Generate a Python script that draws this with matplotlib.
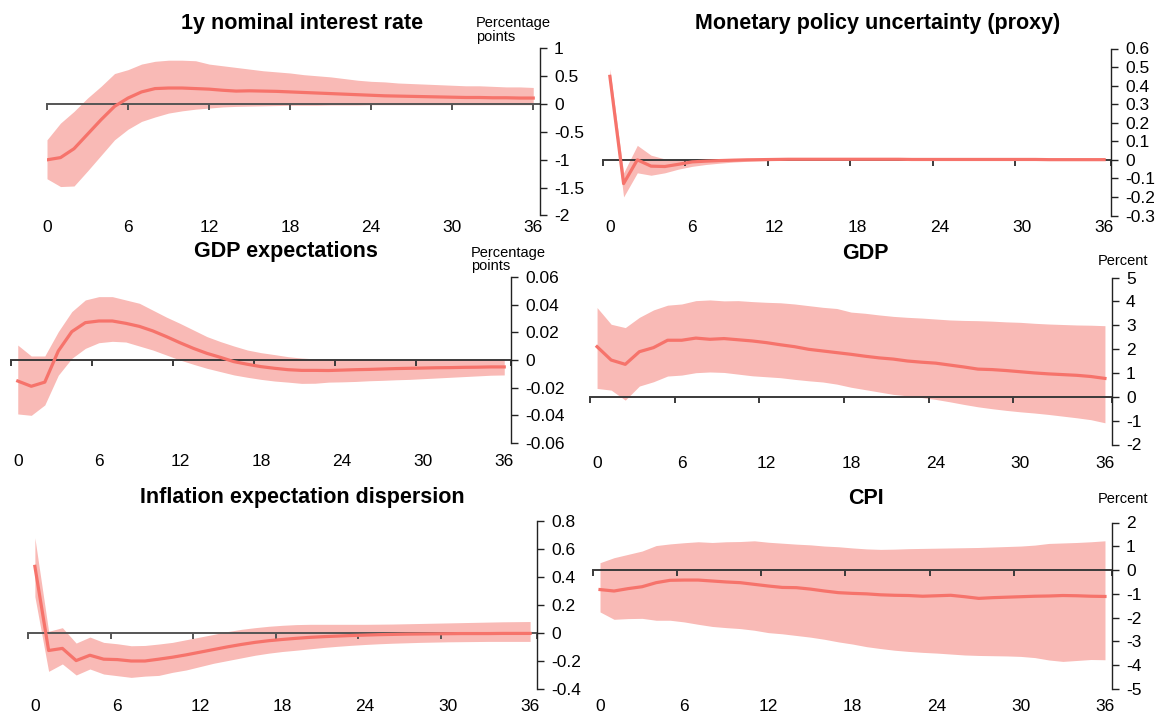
import numpy as np
import matplotlib
matplotlib.use("Agg")
import matplotlib.pyplot as plt

plt.rcParams['font.family'] = ['Liberation Sans', 'DejaVu Sans']

months = np.arange(37)
xlabels = [0, 6, 12, 18, 24, 30, 36]

# 1y nominal interest rate
rate_mid = [-1.00, -0.96, -0.80, -0.54, -0.28, -0.04, 0.11, 0.22, 0.28, 0.29, 0.29, 0.28, 0.27,
            0.25, 0.235, 0.24, 0.235, 0.23, 0.22, 0.21, 0.20, 0.19, 0.18, 0.17, 0.16, 0.15, 0.145,
            0.14, 0.135, 0.13, 0.125, 0.12, 0.12, 0.115, 0.115, 0.11, 0.11]
rate_up = [-0.64, -0.34, -0.13, 0.11, 0.32, 0.55, 0.62, 0.72, 0.77, 0.79, 0.79, 0.78, 0.72,
           0.69, 0.66, 0.63, 0.60, 0.58, 0.56, 0.53, 0.51, 0.49, 0.46, 0.43, 0.41, 0.40, 0.38,
           0.37, 0.36, 0.35, 0.34, 0.33, 0.33, 0.32, 0.31, 0.31, 0.30]
rate_lo = [-1.34, -1.48, -1.47, -1.20, -0.92, -0.64, -0.45, -0.31, -0.23, -0.16, -0.12, -0.09, -0.07,
           -0.05, -0.04, -0.035, -0.03, -0.025, -0.02, -0.02, -0.02, -0.015, -0.015, -0.015, -0.01,
           -0.01, -0.01, -0.01, -0.01, -0.01, -0.01, -0.01, -0.01, -0.01, -0.01, -0.01, -0.01]

# Monetary policy uncertainty (proxy)
mpu_mid = [0.45, -0.128, 0.0, -0.034, -0.036, -0.024, -0.011, -0.007, -0.004, -0.002, 0.0, 0.001,
           0.002, 0.003, 0.003, 0.003, 0.003, 0.003, 0.003, 0.003, 0.003, 0.003, 0.002, 0.002, 0.002,
           0.002, 0.002, 0.002, 0.002, 0.002, 0.002, 0.002, 0.001, 0.001, 0.001, 0.001, 0.001]
mpu_up = [0.49, -0.07, 0.078, 0.025, 0.005, 0.0, 0.003, 0.005, 0.007, 0.008, 0.008, 0.008, 0.008,
          0.008, 0.008, 0.008, 0.008, 0.008, 0.007, 0.007, 0.007, 0.007, 0.007, 0.006, 0.006, 0.006,
          0.006, 0.006, 0.006, 0.005, 0.005, 0.005, 0.005, 0.005, 0.005, 0.005, 0.005]
mpu_lo = [0.41, -0.20, -0.07, -0.083, -0.07, -0.05, -0.035, -0.025, -0.018, -0.012, -0.008, -0.005,
          -0.003, -0.002, -0.002, -0.002, -0.002, -0.002, -0.002, -0.002, -0.002, -0.002, -0.002,
          -0.002, -0.002, -0.002, -0.002, -0.002, -0.002, -0.002, -0.002, -0.002, -0.002, -0.002,
          -0.002, -0.002, -0.002]

# GDP expectations
gdpe_mid = [-0.0152, -0.019, -0.016, 0.0065, 0.0205, 0.027, 0.0282, 0.0282, 0.0265, 0.0243, 0.021,
            0.0169, 0.0125, 0.0084, 0.0048, 0.0019, -0.0012, -0.0031, -0.0048, -0.006, -0.007,
            -0.0075, -0.0075, -0.0076, -0.0073, -0.007, -0.0068, -0.0065, -0.0062, -0.006, -0.0058,
            -0.0056, -0.0055, -0.0053, -0.0052, -0.005, -0.005]
gdpe_up = [0.0108, 0.0029, 0.0029, 0.0205, 0.035, 0.0434, 0.0458, 0.0458, 0.0434, 0.041, 0.036,
           0.031, 0.0265, 0.0217, 0.0169, 0.0133, 0.0101, 0.0072, 0.0053, 0.0039, 0.0024, 0.0014,
           0.0008, 0.0005, 0.0003, 0.0002, 0.0002, 0.0002, 0.0003, 0.0003, 0.0004, 0.0005, 0.0005,
           0.0006, 0.0006, 0.0007, 0.0007]
gdpe_lo = [-0.039, -0.040, -0.0325, -0.011, 0.0012, 0.0084, 0.0125, 0.0135, 0.013, 0.0101, 0.0072,
           0.0036, 0.0, -0.0031, -0.006, -0.0084, -0.0108, -0.0125, -0.014, -0.0152, -0.016, -0.0169,
           -0.0168, -0.016, -0.0158, -0.0155, -0.015, -0.0147, -0.0143, -0.014, -0.0135, -0.013,
           -0.0125, -0.012, -0.0115, -0.011, -0.0108]

# GDP
gdp_mid = [2.10, 1.54, 1.36, 1.89, 2.06, 2.37, 2.37, 2.46, 2.41, 2.44, 2.39, 2.34, 2.27, 2.18, 2.10,
           1.99, 1.92, 1.85, 1.78, 1.70, 1.63, 1.58, 1.50, 1.45, 1.41, 1.33, 1.25, 1.16, 1.14, 1.10,
           1.05, 1.00, 0.96, 0.93, 0.90, 0.85, 0.77]
gdp_up = [3.74, 3.04, 2.90, 3.33, 3.64, 3.84, 3.89, 4.03, 4.06, 4.02, 4.03, 3.99, 3.96, 3.94, 3.89,
          3.82, 3.75, 3.70, 3.55, 3.50, 3.43, 3.37, 3.33, 3.30, 3.26, 3.22, 3.20, 3.19, 3.17, 3.14,
          3.12, 3.08, 3.05, 3.03, 3.01, 3.00, 2.98]
gdp_lo = [0.35, 0.28, -0.14, 0.45, 0.63, 0.87, 0.91, 1.01, 1.04, 1.02, 0.95, 0.88, 0.84, 0.80, 0.73,
          0.67, 0.62, 0.53, 0.40, 0.30, 0.20, 0.10, 0.04, -0.03, -0.11, -0.21, -0.32, -0.42, -0.50,
          -0.57, -0.63, -0.68, -0.74, -0.81, -0.88, -0.96, -1.09]

# Inflation expectation dispersion
ied_mid = [0.476, -0.125, -0.11, -0.197, -0.159, -0.187, -0.19, -0.20, -0.20, -0.187, -0.173, -0.156,
           -0.137, -0.118, -0.099, -0.082, -0.067, -0.055, -0.046, -0.038, -0.031, -0.026, -0.022,
           -0.018, -0.015, -0.012, -0.010, -0.008, -0.007, -0.006, -0.005, -0.004, -0.004, -0.004,
           -0.003, -0.003, -0.003]
ied_up = [0.68, 0.012, 0.038, -0.072, -0.029, -0.067, -0.077, -0.091, -0.089, -0.079, -0.067, -0.048,
          -0.029, -0.010, 0.010, 0.026, 0.038, 0.048, 0.055, 0.060, 0.062, 0.062, 0.062, 0.062, 0.062,
          0.063, 0.064, 0.066, 0.068, 0.070, 0.072, 0.074, 0.076, 0.078, 0.080, 0.081, 0.082]
ied_lo = [0.26, -0.274, -0.221, -0.30, -0.257, -0.293, -0.305, -0.317, -0.308, -0.303, -0.281, -0.264,
          -0.24, -0.216, -0.197, -0.178, -0.159, -0.144, -0.132, -0.123, -0.113, -0.103, -0.095,
          -0.088, -0.082, -0.077, -0.073, -0.070, -0.067, -0.065, -0.063, -0.062, -0.061, -0.060,
          -0.060, -0.060, -0.060]

# CPI
cpi_mid = [-0.82, -0.88, -0.78, -0.70, -0.53, -0.43, -0.42, -0.42, -0.46, -0.50, -0.53, -0.60, -0.67,
           -0.73, -0.74, -0.80, -0.88, -0.95, -0.98, -1.00, -1.04, -1.06, -1.07, -1.10, -1.08, -1.06,
           -1.12, -1.19, -1.16, -1.14, -1.12, -1.10, -1.09, -1.07, -1.08, -1.10, -1.11]
cpi_up = [0.31, 0.52, 0.66, 0.80, 1.03, 1.10, 1.15, 1.19, 1.16, 1.19, 1.20, 1.23, 1.17, 1.13, 1.09,
          1.06, 1.01, 0.98, 0.93, 0.89, 0.87, 0.88, 0.90, 0.91, 0.92, 0.93, 0.94, 0.95, 0.97, 0.99,
          1.01, 1.05, 1.12, 1.14, 1.16, 1.19, 1.23]
cpi_lo = [-1.76, -2.07, -2.04, -2.03, -2.11, -2.11, -2.18, -2.28, -2.37, -2.42, -2.46, -2.53, -2.63,
          -2.68, -2.75, -2.82, -2.91, -3.02, -3.11, -3.22, -3.30, -3.37, -3.42, -3.46, -3.49, -3.53,
          -3.57, -3.59, -3.60, -3.61, -3.63, -3.68, -3.78, -3.84, -3.80, -3.76, -3.77]

W, H = 1160, 713
BAND = '#F9BAB6'
LINE = '#F6736B'
AX = '#3a3a3a'
TICK_FS = 12.5
TITLE_FS = 15.5
UNIT_FS = 10.5

fig = plt.figure(figsize=(W / 100, H / 100), dpi=100)


def panel(box, xlim, xtick_pos, ylim, ystep, yfmt, mid, up, lo, title, title_c, unit=None,
          unit_pos=None, label_pad=6, zero_color=AX):
    l, r, t, b = box
    ax = fig.add_axes([l / W, 1 - b / H, (r - l) / W, (b - t) / H])
    ax.fill_between(months, lo, up, color=BAND, lw=0, zorder=1)
    ax.plot(months, mid, color=LINE, lw=2.3, zorder=3, solid_joinstyle='round')
    ax.set_xlim(*xlim)
    ax.set_ylim(*ylim)
    for s in ('left', 'top'):
        ax.spines[s].set_visible(False)
    ax.spines['bottom'].set_position(('data', 0))
    ax.spines['bottom'].set_color(zero_color)
    ax.spines['bottom'].set_linewidth(1.4)
    ax.spines['bottom'].set_zorder(2)
    ax.spines['right'].set_color('#222222')
    ax.spines['right'].set_linewidth(1.0)
    ax.set_xticks(xtick_pos)
    ax.tick_params(axis='x', direction='out', length=4, width=1.4, color=zero_color,
                   labelbottom=False)
    yt = np.round(np.arange(ylim[0], ylim[1] + ystep / 2, ystep), 6)
    ax.set_yticks(yt)
    ax.set_yticklabels([yfmt(v) for v in yt])
    ax.yaxis.tick_right()
    ax.tick_params(axis='y', direction='out', length=5, width=1.0, color='#222222',
                   labelsize=TICK_FS, pad=5)
    sec = ax.secondary_xaxis('bottom')
    sec.set_xticks(xlabels)
    sec.set_xticklabels([str(v) for v in xlabels])
    sec.tick_params(length=0, labelsize=TICK_FS, pad=label_pad)
    sec.spines['bottom'].set_visible(False)
    fig.text(title_c[0] / W, 1 - title_c[1] / H, title, ha='center', va='center',
             fontsize=TITLE_FS, fontweight='bold')
    if unit:
        fig.text(unit_pos[0] / W, 1 - unit_pos[1] / H, unit, ha='left', va='top',
                 fontsize=UNIT_FS, linespacing=0.95)
    return ax


def fmt_num(v):
    if abs(v) < 1e-9:
        return '0'
    s = ('%.2f' % v).rstrip('0').rstrip('.')
    return s


BETWEEN = [-0.5, 5.5, 11.5, 17.5, 23.5, 29.5, 36.5]

panel((47, 540, 48.5, 215.5), (0, 36.5), [0, 6, 12, 18, 24, 30, 36], (-2, 1), 0.5, fmt_num,
      rate_mid, rate_up, rate_lo, '1y nominal interest rate', (302, 24),
      'Percentage\npoints', (476, 16.5), label_pad=3, zero_color='#555555')
panel((603, 1111, 48.5, 215.5), (-0.5, 36.5), BETWEEN, (-0.3, 0.6), 0.1, fmt_num,
      mpu_mid, mpu_up, mpu_lo, 'Monetary policy uncertainty (proxy)', (878, 24), label_pad=3)
panel((11, 511, 277, 443), (-0.5, 36.5), BETWEEN, (-0.06, 0.06), 0.02, fmt_num,
      gdpe_mid, gdpe_up, gdpe_lo, 'GDP expectations', (286, 252),
      'Percentage\npoints', (471, 245.5), label_pad=8)
panel((590, 1112, 277.5, 444.5), (-0.5, 36.5), BETWEEN, (-2, 5), 1, fmt_num,
      gdp_mid, gdp_up, gdp_lo, 'GDP', (865, 254), 'Percent', (1098, 254), label_pad=8)
panel((28, 537, 521, 689), (-0.5, 36.5), BETWEEN, (-0.4, 0.8), 0.2, fmt_num,
      ied_mid, ied_up, ied_lo, 'Inflation expectation dispersion', (302, 497),
      zero_color='#555555', label_pad=7.5)
panel((593, 1112, 522.5, 689), (-0.5, 36.5), BETWEEN, (-5, 2), 1, fmt_num,
      cpi_mid, cpi_up, cpi_lo, 'CPI', (866, 499), 'Percent', (1098, 492), label_pad=7.5)

fig.savefig('out.png', dpi=100)
